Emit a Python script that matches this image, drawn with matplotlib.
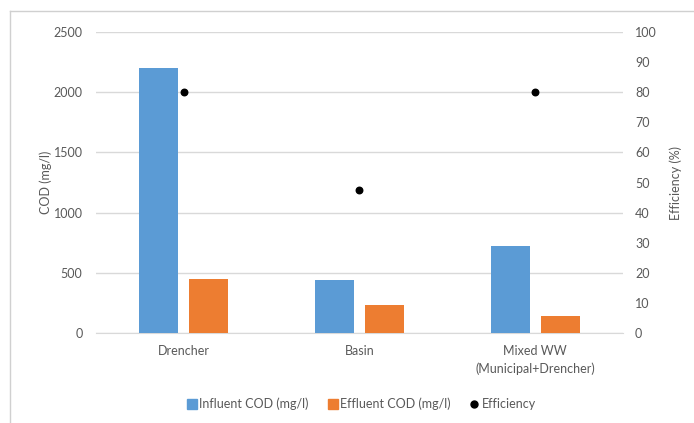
import numpy as np
import matplotlib.pyplot as plt
from matplotlib.lines import Line2D

plt.rcParams['font.family'] = ['Lato', 'DejaVu Sans']

categories = ['Drencher', 'Basin', 'Mixed WW\n(Municipal+Drencher)']
influent_cod = [2200, 440, 720]
effluent_cod = [450, 230, 145]
efficiency = [80, 47.5, 80]

blue = '#5B9BD5'
orange = '#ED7D31'
text_col = '#595959'
grid_col = '#D9D9D9'

fig = plt.figure(figsize=(6.94, 4.23), dpi=100)
ax = fig.add_axes([0.138, 0.2128, 0.76, 0.7115])
ax2 = ax.twinx()

x = np.arange(len(categories))
w = 0.22
ax.bar(x - 0.143, influent_cod, w, color=blue, label='Influent COD (mg/l)', zorder=3)
ax.bar(x + 0.143, effluent_cod, w, color=orange, label='Effluent COD (mg/l)', zorder=3)
ax2.scatter(x, efficiency, s=22, color='black', label='Efficiency', zorder=4)

ax.set_xlim(-0.5, len(categories) - 0.5)
ax.set_ylim(0, 2500)
ax.set_yticks(np.arange(0, 2501, 500))
ax2.set_ylim(0, 100)
ax2.set_yticks(np.arange(0, 101, 10))
ax.set_xticks(x)
ax.set_xticklabels(categories, linespacing=1.5)

ax.yaxis.grid(True, color=grid_col, linewidth=1, zorder=0)
ax.set_axisbelow(True)
for a in (ax, ax2):
    for s in a.spines.values():
        s.set_visible(False)
    a.tick_params(length=0, colors=text_col, labelsize=9)
ax.spines['bottom'].set_visible(True)
ax.spines['bottom'].set_color(grid_col)
ax.tick_params(axis='y', pad=9.5)
ax2.tick_params(axis='y', pad=8.5)
ax.tick_params(axis='x', pad=9)

ax.set_ylabel('COD (mg/l)', color=text_col, fontsize=9, labelpad=1)
ax2.set_ylabel('Efficiency (%)', color=text_col, fontsize=9, labelpad=9)

handles = [
    Line2D([], [], marker='s', linestyle='none', color=blue, markersize=7),
    Line2D([], [], marker='s', linestyle='none', color=orange, markersize=7),
    Line2D([], [], marker='o', linestyle='none', color='black', markersize=5),
]
labels = ['Influent COD (mg/l)', 'Effluent COD (mg/l)', 'Efficiency']
fig.legend(handles, labels, loc='center', bbox_to_anchor=(0.52, 0.045), ncol=3,
           frameon=False, fontsize=9, labelcolor=text_col, handletextpad=0.1,
           columnspacing=1.4, handlelength=1.0)

# chart area border (top and left edges only)
fig.add_artist(Line2D([10 / 694, 1], [1 - 11 / 423, 1 - 11 / 423],
                      transform=fig.transFigure, color='#D0D0D0', linewidth=1))
fig.add_artist(Line2D([10 / 694, 10 / 694], [0, 1 - 11 / 423],
                      transform=fig.transFigure, color='#D0D0D0', linewidth=1))

fig.savefig('out.png', dpi=100)
